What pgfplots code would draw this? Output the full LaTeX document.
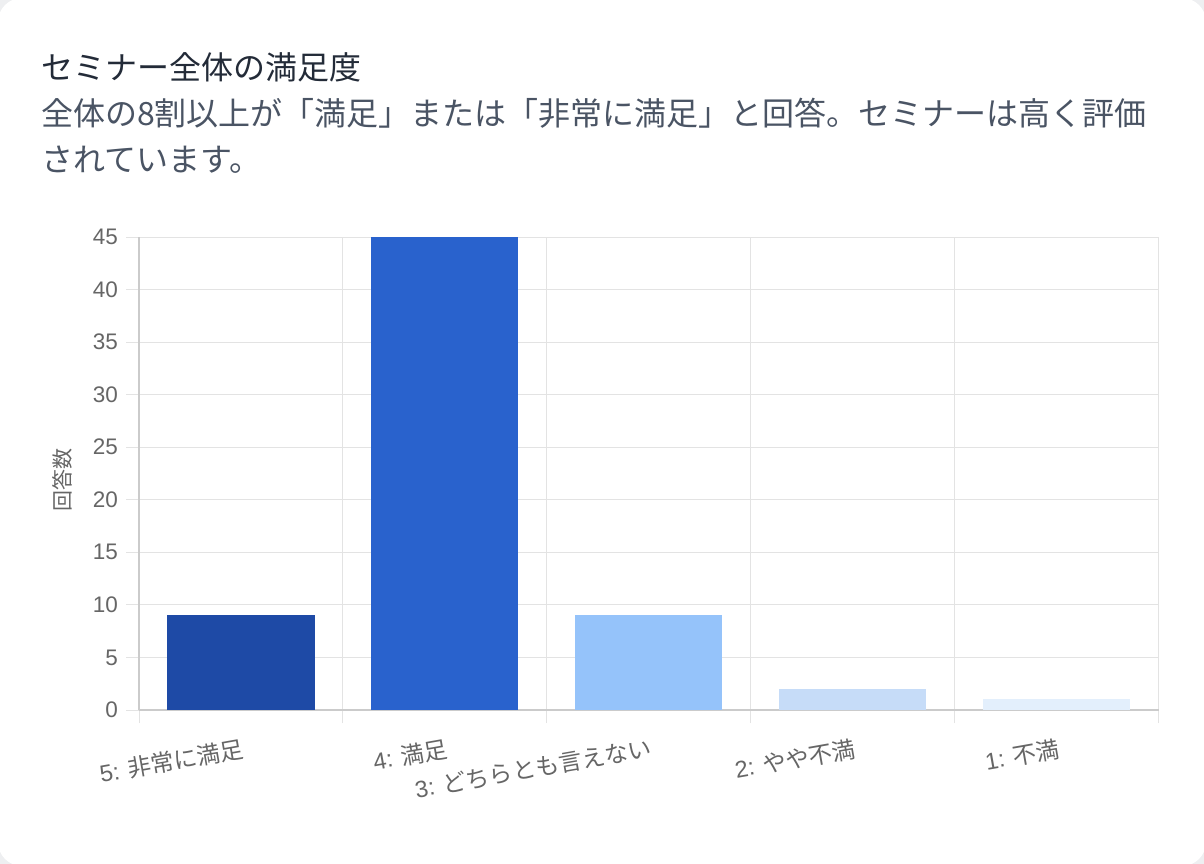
\documentclass[border=0pt]{standalone}
\usepackage{pgfplots}
\pgfplotsset{compat=1.18}
\usepackage{fontspec}
\setmainfont{Liberation Sans}
\newfontfamily\cjk{Noto Sans CJK JP}
\newfontfamily\lat{Liberation Sans}
\definecolor{bggray}{HTML}{EEEFF1}
\definecolor{titlec}{HTML}{232B38}
\definecolor{subc}{HTML}{4A5464}
\definecolor{tickc}{HTML}{666666}
\definecolor{gridc}{HTML}{E3E3E3}
\definecolor{axisc}{HTML}{CBCBCB}
\definecolor{cA}{HTML}{1E4AA6}
\definecolor{cB}{HTML}{2962CD}
\definecolor{cC}{HTML}{95C3FA}
\definecolor{cD}{HTML}{C6DCF8}
\definecolor{cE}{HTML}{E3EFFC}
\begin{document}
\begin{tikzpicture}[x=1pt,y=1pt]
\path[use as bounding box, fill=bggray] (0,0) rectangle (1204,-864);
\fill[white, rounded corners=24pt] (-2,2) rectangle (1206,-866);
\node[anchor=base west, inner sep=0pt, text=titlec, font=\cjk\fontsize{32}{38}\selectfont] at (41,-80) {セミナー全体の満足度};
\node[anchor=base west, inner sep=0pt, text=subc, font=\cjk\fontsize{32}{38}\selectfont] at (41,-125) {全体の8割以上が「満足」または「非常に満足」と回答。セミナーは高く評価};
\node[anchor=base west, inner sep=0pt, text=subc, font=\cjk\fontsize{32}{38}\selectfont] at (41,-171) {されています。};
\begin{axis}[
  at={(139pt,-710pt)}, anchor=south west,
  scale only axis, width=1020pt, height=473pt,
  xmin=-0.5, xmax=4.5, ymin=0, ymax=45,
  xtick={-0.5,0.5,1.5,2.5,3.5,4.5}, xticklabels={},
  extra x ticks={0,1,2,3,4},
  extra x tick labels={{\lat 5: }非常に満足,{\lat 4: }満足,{\lat 3: }どちらとも言えない,{\lat 2: }やや不満,{\lat 1: }不満},
  extra x tick style={grid=none, major tick length=0pt,
    tick label style={anchor=north east, rotate=10, inner sep=0pt, font=\cjk\fontsize{23.5}{28}\selectfont, text=tickc, xshift=-4pt, yshift=-27pt}},
  ytick={0,5,...,45},
  grid=major, major grid style={draw=gridc, line width=1pt},
  tick align=outside, major tick length=13pt, tick style={draw=gridc, line width=1pt},
  axis x line*=bottom, axis y line*=left,
  axis line style={-, draw=axisc, line width=1.5pt},
  yticklabel style={font=\lat\fontsize{22.5}{26}\selectfont, text=tickc, anchor=east, inner sep=0pt, xshift=-8pt},
  /pgf/number format/assume math mode=true,
  ylabel={回答数},
  every axis y label/.style={at={(axis description cs:-0.0755,0.486)}, rotate=90, anchor=center, font=\cjk\fontsize{21}{25}\selectfont, text=tickc},
]
\addplot[ybar, bar shift=0pt, bar width=147pt, fill=cA, draw=none] coordinates {(0,9)};
\addplot[ybar, bar shift=0pt, bar width=147pt, fill=cB, draw=none] coordinates {(1,45)};
\addplot[ybar, bar shift=0pt, bar width=147pt, fill=cC, draw=none] coordinates {(2,9)};
\addplot[ybar, bar shift=0pt, bar width=147pt, fill=cD, draw=none] coordinates {(3,2)};
\addplot[ybar, bar shift=0pt, bar width=147pt, fill=cE, draw=none] coordinates {(4,1)};
\end{axis}
\end{tikzpicture}
\end{document}
